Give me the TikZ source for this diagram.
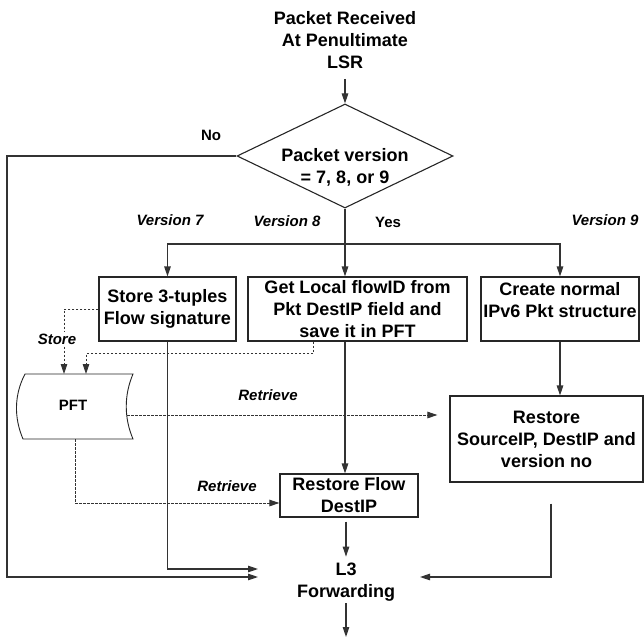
\documentclass[tikz,border=0pt]{standalone}
\usepackage{fontspec}
\setmainfont{Liberation Sans}
\usetikzlibrary{arrows.meta,shapes.geometric}
\begin{document}
\begin{tikzpicture}[x=1pt,y=-1pt,
  every node/.style={font=\bfseries\fontsize{18}{22}\selectfont, inner sep=0pt, align=center},
  lbl/.style={font=\bfseries\itshape\fontsize{15}{18}\selectfont},
  ulbl/.style={font=\bfseries\fontsize{15}{18}\selectfont},
  boxnode/.style={draw=black!85, line width=1.1pt, rectangle, inner sep=0pt},
  arr/.style={draw=black!80, line width=1.1pt, -{Triangle[length=10pt,width=6.5pt]}},
  dsh/.style={draw=black!80, line width=0.8pt, dash pattern=on 2.5pt off 1.5pt, -{Triangle[length=10pt,width=6.5pt]}},
]
\useasboundingbox (0,0) rectangle (644,639);

% nodes
\node (start) at (345,40) {Packet Received\\At Penultimate\\LSR};
\node[draw=black!85, line width=1.1pt, diamond, minimum width=216pt, minimum height=104pt] (dia) at (345,156) {};
\node (diat) at (345,167.5) {Packet version\\= 7, 8, or 9};

\node[boxnode, minimum width=137pt, minimum height=64pt] (box1) at (167.5,309) {Store 3-tuples\\Flow signature};
\node[boxnode, minimum width=219pt, minimum height=64pt] (box2) at (357.5,309) {Get Local flowID from\\Pkt DestIP field and\\save it in PFT};
\node[boxnode, minimum width=158pt, minimum height=64pt] (box3) at (560,309) {};
\node (t3) at (560,300.5) {Create normal\\IPv6 Pkt structure};
\node[boxnode, minimum width=193pt, minimum height=86pt] (box4) at (546.5,439) {Restore\\SourceIP, DestIP and\\version no};
\node[boxnode, minimum width=138pt, minimum height=43pt] (box5) at (349,495.5) {Restore Flow\\DestIP};
\node (l3) at (346,582) {L3\\Forwarding};

% PFT store
\draw[line width=0.9pt, draw=black!85] (25,374) -- (133,374) .. controls (124,395) and (124,418) .. (133,439) -- (23,439) .. controls (14,418) and (14,395) .. (25,374) -- cycle;
\node[ulbl] (pft) at (73,405) {PFT};

% labels
\node[ulbl] (no) at (211,135) {No};
\node[lbl] (v7) at (170,220) {Version 7};
\node[lbl] (v8) at (287,221) {Version 8};
\node[ulbl] (yes) at (388,222) {Yes};
\node[lbl] (v9) at (605,220) {Version 9};
\node[lbl] (ret1) at (268,395) {Retrieve};
\node[lbl] (ret2) at (227,486) {Retrieve};

% coordinates
\coordinate (pin1) at (64,374);
\coordinate (pin2) at (86,374);
\coordinate (pout) at (127,415);
\coordinate (pbot) at (75,439);
\coordinate (noc) at (7,577);
\coordinate (la) at (258,577);
\coordinate (lb) at (258,569);
\coordinate (lc) at (420,577);
\coordinate (br) at (345,244);
\coordinate (fin) at (346,637);

% solid connectors
\draw[arr] ([yshift=-10pt]start.south) -- (dia.north);
\draw[arr] (dia.south) -- (dia.south |- box2.north);
\draw[arr] (br) -| (box1.north);
\draw[arr] (br) -| (box3.north);
\draw[arr] (dia.west) -| (noc) -- (la);
\draw[arr] (box1.south) |- (lb);
\draw[arr] (box2.south -| dia.south) -- (box5.north -| dia.south);
\draw[arr] (box3.south) -- (box3.south |- box4.north);
\draw[arr, shorten <=4pt, shorten >=6pt] (l3.north |- box5.south) -- (l3.north);
\draw[arr, shorten <=21pt] ([xshift=4.5pt]box4.south) |- (lc);
\draw[arr, shorten <=2pt] (l3.south) -- (fin);

% dashed connectors
\draw[dsh] (box1.west) -| (pin1);
\node[lbl, fill=white, inner sep=2pt] (store) at (57,339) {Store};
\draw[dsh] ([xshift=-44.5pt]box2.south) -- ++(0,12) -| (pin2);
\draw[dsh, shorten >=12pt] (pout) -- (box4.west |- pout);
\draw[dsh] (pbot) |- (box5.west |- 0,503);
\end{tikzpicture}
\end{document}
